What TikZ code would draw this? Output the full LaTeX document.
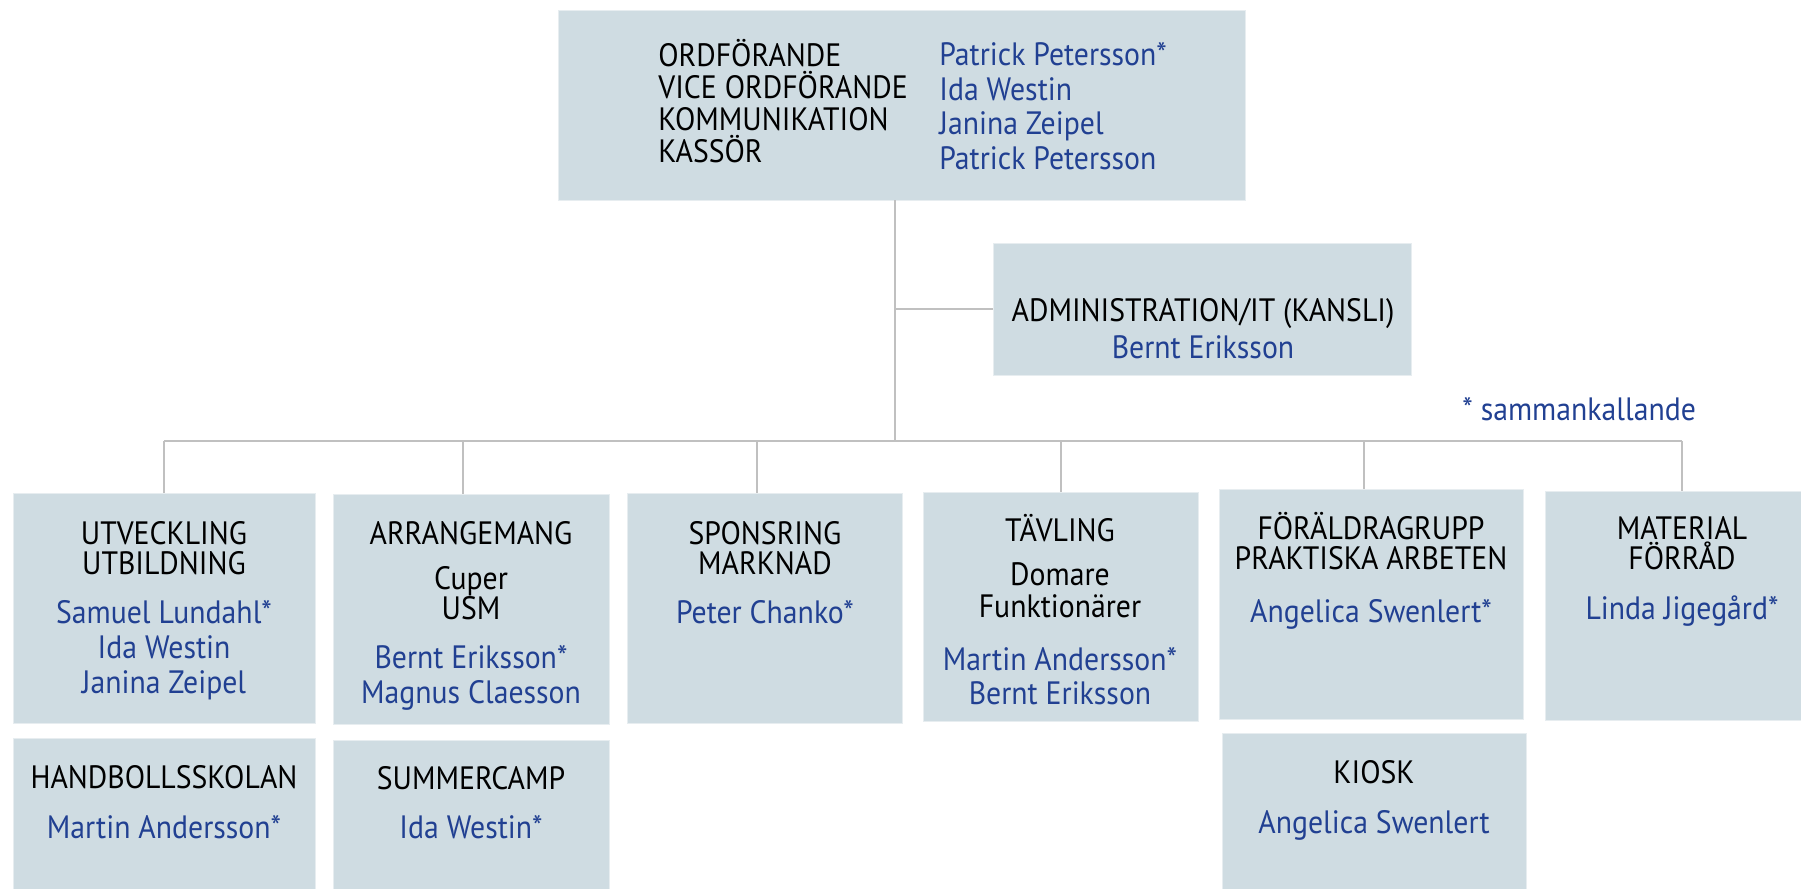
\documentclass[tikz,border=0pt]{standalone}
\usepackage{fontspec}
\setmainfont[FakeStretch=0.92]{PT Sans}
\usetikzlibrary{fit}
\definecolor{boxfill}{RGB}{207,220,226}
\definecolor{namecol}{RGB}{33,64,146}
\definecolor{linkcol}{RGB}{192,192,192}

\begin{document}
\begin{tikzpicture}[
  x=0.2mm, y=-0.2mm,
  group/.style={fill=boxfill, draw=boxfill!50!white, line width=0.3pt, inner sep=0pt},
  head/.style={anchor=base, inner sep=0pt, font=\fontsize{18.4}{21}\selectfont},
  person/.style={head, text=namecol},
  link/.style={draw=linkcol, line width=0.6pt}
]
\useasboundingbox (0,0) rectangle (1801,889);

% boxes
\node[group, fit={(558,10) (1245,200)}] (board) {};
\node[group, fit={(993,243) (1411,375)}] (admin) {};
\node[group, fit={(13,493) (315,723)}] (utv) {};
\node[group, fit={(333,494) (609,724)}] (arr) {};
\node[group, fit={(627,493) (902,723)}] (spons) {};
\node[group, fit={(923,492) (1198,721)}] (tav) {};
\node[group, fit={(1219,489) (1523,719)}] (foral) {};
\node[group, fit={(1545,491) (1801,720)}] (mat) {};
\node[group, fit={(13,738) (315,889)}] (hand) {};
\node[group, fit={(333,740) (609,889)}] (summer) {};
\node[group, fit={(1222,733) (1526,889)}] (kiosk) {};

% styrelsen
\foreach \txt/\y [count=\i] in {ORDFÖRANDE/67, VICE ORDFÖRANDE/99, KOMMUNIKATION/131, KASSÖR/163}
  \node[head, anchor=base west] (role\i) at (658,\y) {\txt};
\foreach \txt/\y [count=\i] in {Patrick Petersson*/66, Ida Westin/101, Janina Zeipel/135, Patrick Petersson/170}
  \node[person, anchor=base west] (member\i) at (939,\y) {\txt};

\node[head] (admin-h) at (1203,321) {ADMINISTRATION/IT (KANSLI)};
\node[person] (admin-n) at (1203,358) {Bernt Eriksson};

\node[person, anchor=base west] (note) at (1462,420) {* sammankallande};

% grupper
\node[head] (utv-h1) at (164,544) {UTVECKLING};
\node[head] (utv-h2) at (164,574) {UTBILDNING};
\node[person] (utv-n1) at (164,623) {Samuel Lundahl*};
\node[person] (utv-n2) at (164,658) {Ida Westin};
\node[person] (utv-n3) at (164,693) {Janina Zeipel};

\node[head] (arr-h1) at (471,544) {ARRANGEMANG};
\node[head] (arr-h2) at (471,589) {Cuper};
\node[head] (arr-h3) at (471,619) {USM};
\node[person] (arr-n1) at (471,668) {Bernt Eriksson*};
\node[person] (arr-n2) at (471,703) {Magnus Claesson};

\node[head] (spons-h1) at (765,544) {SPONSRING};
\node[head] (spons-h2) at (765,574) {MARKNAD};
\node[person] (spons-n1) at (765,623) {Peter Chanko*};

\node[head] (tav-h1) at (1060,541) {TÄVLING};
\node[head] (tav-h2) at (1060,585) {Domare};
\node[head] (tav-h3) at (1060,617) {Funktionärer};
\node[person] (tav-n1) at (1060,670) {Martin Andersson*};
\node[person] (tav-n2) at (1060,704) {Bernt Eriksson};

\node[head] (foral-h1) at (1371,539) {FÖRÄLDRAGRUPP};
\node[head] (foral-h2) at (1371,569) {PRAKTISKA ARBETEN};
\node[person] (foral-n1) at (1371,622) {Angelica Swenlert*};

\node[head] (mat-h1) at (1682,539) {MATERIAL};
\node[head] (mat-h2) at (1682,569) {FÖRRÅD};
\node[person] (mat-n1) at (1682,619) {Linda Jigegård*};

\node[head] (hand-h1) at (164,788) {HANDBOLLSSKOLAN};
\node[person] (hand-n1) at (164,838) {Martin Andersson*};

\node[head] (summer-h1) at (471,789) {SUMMERCAMP};
\node[person] (summer-n1) at (471,838) {Ida Westin*};

\node[head] (kiosk-h1) at (1374,783) {KIOSK};
\node[person] (kiosk-n1) at (1374,833) {Angelica Swenlert};

% linjer
\coordinate (hub) at (895,441);
\draw[link] (board.south -| hub) -- (hub);
\draw[link] (admin.west -| hub) -- (admin.west);
\foreach \grp/\dx in {utv/164, arr/463, spons/757, tav/1061, foral/1364, mat/1682} {
  \coordinate (\grp-drop) at (\dx,441);
  \draw[link] (\grp-drop) -- (\grp-drop |- \grp.north);
}
\draw[link] (utv-drop) -- (mat-drop);
\end{tikzpicture}
\end{document}
